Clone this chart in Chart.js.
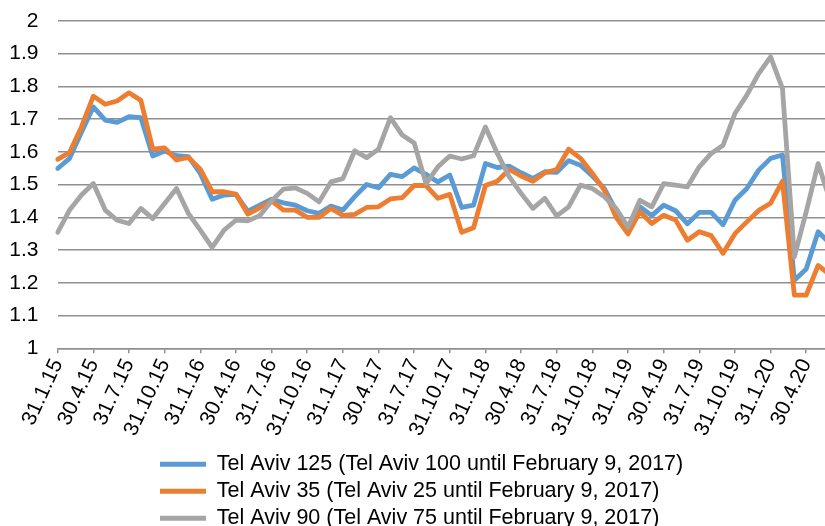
<!DOCTYPE html>
<html><head><meta charset="utf-8">
<script src="https://cdn.jsdelivr.net/npm/chart.js@4.4.1/dist/chart.umd.min.js"></script>
<style>
html,body{margin:0;padding:0;overflow:hidden;background:#fff;width:825px;height:526px}
#wrap{position:absolute;left:0;top:-11px;width:830px;height:544px}
</style>
</head><body>
<div id="wrap"><canvas id="c"></canvas></div>
<script>
// Month-end categories (Jan 2015 – Jun 2020)
const categories = [
  '31.1.15','28.2.15','31.3.15','30.4.15','31.5.15','30.6.15','31.7.15','31.8.15','30.9.15','31.10.15','30.11.15','31.12.15',
  '31.1.16','29.2.16','31.3.16','30.4.16','31.5.16','30.6.16','31.7.16','31.8.16','30.9.16','31.10.16','30.11.16','31.12.16',
  '31.1.17','28.2.17','31.3.17','30.4.17','31.5.17','30.6.17','31.7.17','31.8.17','30.9.17','31.10.17','30.11.17','31.12.17',
  '31.1.18','28.2.18','31.3.18','30.4.18','31.5.18','30.6.18','31.7.18','31.8.18','30.9.18','31.10.18','30.11.18','31.12.18',
  '31.1.19','28.2.19','31.3.19','30.4.19','31.5.19','30.6.19','31.7.19','31.8.19','30.9.19','31.10.19','30.11.19','31.12.19',
  '31.1.20','29.2.20','31.3.20','30.4.20','31.5.20','30.6.20'
];
const labelEvery = 3;

const seriesNames = [
  'Tel Aviv 125 (Tel Aviv 100 until February 9, 2017)',
  'Tel Aviv 35 (Tel Aviv 25 until February 9, 2017)',
  'Tel Aviv 90 (Tel Aviv 75 until February 9, 2017)'
];

const telAviv125 = [
  1.549,1.580,1.660,1.737,1.697,1.690,1.707,1.704,1.587,1.602,1.588,1.585,
  1.534,1.455,1.468,1.470,1.419,1.437,1.455,1.444,1.437,1.420,1.412,1.434,
  1.422,1.463,1.500,1.490,1.531,1.524,1.551,1.531,1.508,1.529,1.430,1.437,
  1.564,1.552,1.556,1.536,1.519,1.539,1.537,1.573,1.559,1.526,1.488,1.420,
  1.355,1.432,1.405,1.437,1.420,1.380,1.415,1.415,1.377,1.452,1.488,1.544,
  1.580,1.590,1.208,1.242,1.356,1.320
];
const telAviv35 = [
  1.577,1.598,1.676,1.770,1.745,1.755,1.780,1.757,1.608,1.612,1.575,1.583,
  1.547,1.478,1.478,1.471,1.410,1.429,1.450,1.422,1.422,1.400,1.400,1.427,
  1.406,1.409,1.430,1.432,1.456,1.460,1.497,1.497,1.458,1.470,1.354,1.368,
  1.497,1.510,1.546,1.526,1.510,1.536,1.546,1.608,1.580,1.534,1.483,1.400,
  1.349,1.417,1.381,1.406,1.392,1.330,1.356,1.344,1.290,1.350,1.386,1.421,
  1.443,1.510,1.162,1.162,1.253,1.224
];
const telAviv90 = [
  1.354,1.422,1.468,1.503,1.422,1.391,1.381,1.427,1.396,1.442,1.488,1.412,
  1.361,1.308,1.361,1.391,1.389,1.405,1.450,1.486,1.490,1.473,1.447,1.508,
  1.518,1.603,1.582,1.608,1.704,1.651,1.627,1.503,1.554,1.587,1.578,1.588,
  1.676,1.595,1.524,1.473,1.427,1.458,1.404,1.432,1.498,1.488,1.463,1.427,
  1.370,1.452,1.432,1.503,1.498,1.493,1.554,1.595,1.620,1.717,1.773,1.839,
  1.890,1.793,1.279,1.417,1.564,1.452
];

const yMin = 1, yMax = 2, yStep = 0.1;
const colors = ['#5B9BD5', '#ED7D31', '#A5A5A5'];

const FONT = "'Liberation Sans', Arial, sans-serif";

const legendPlace = {
  id: 'legendPlace',
  afterLayout(chart) {
    const lg = chart.legend;
    if (!lg) return;
    const dx = 154.5 - lg.left, dy = 459 - lg.top;
    lg.left += dx; lg.right += dx; lg.top += dy; lg.bottom += dy;
  }
};

const seriesData = [telAviv125, telAviv35, telAviv90];
const datasets = seriesData.map((d, i) => ({
  label: seriesNames[i],
  data: d,
  borderColor: colors[i],
  backgroundColor: colors[i],
  borderWidth: 4.8,
  pointRadius: 0,
  tension: 0,
  borderJoinStyle: 'round',
  borderCapStyle: 'round',
  order: 3 - i
}));

new Chart(document.getElementById('c'), {
  type: 'line',
  data: { labels: categories, datasets },
  plugins: [legendPlace],
  options: {
    responsive: true,
    maintainAspectRatio: false,
    animation: false,
    layout: { padding: { left: 9, right: 0, top: 14, bottom: 0 } },
    plugins: {
      tooltip: { enabled: false },
      legend: {
        position: 'bottom',
        align: 'start',
        labels: {
          boxWidth: 46,
          boxHeight: 5,
          padding: 5.5,
          color: '#000',
          font: { family: FONT, size: 21.5 },
          generateLabels(chart) {
            const items = Chart.defaults.plugins.legend.labels.generateLabels(chart);
            items.forEach(it => { it.lineWidth = 0; });
            return items.sort((a, b) => a.datasetIndex - b.datasetIndex);
          }
        }
      }
    },
    scales: {
      x: {
        type: 'category',
        offset: false,
        afterFit(scale) { scale.paddingLeft = 0; scale.paddingRight = 0; },
        grid: {
          drawOnChartArea: false,
          drawTicks: true,
          tickLength: 5,
          lineWidth: 1.5,
          color: ctx => (ctx.index % labelEvery === 0 ? '#8f8f8f' : 'rgba(0,0,0,0)')
        },
        border: { display: true, color: '#8f8f8f', width: 1.5 },
        ticks: {
          autoSkip: false,
          minRotation: 65,
          maxRotation: 65,
          padding: 2,
          color: '#000',
          font: { family: FONT, size: 21 },
          callback(v, i) { return i % labelEvery === 0 ? categories[i] : ''; }
        }
      },
      y: {
        min: yMin,
        max: yMax,
        afterFit(scale) { scale.width = 48.7; },
        ticks: {
          stepSize: yStep,
          padding: 19.2,
          color: '#000',
          font: { family: FONT, size: 21 },
          callback: v => String(Math.round(v * 10) / 10)
        },
        grid: { color: '#8f8f8f', lineWidth: 1.5, drawTicks: false },
        border: { display: false }
      }
    }
  }
});
</script>
</body></html>
